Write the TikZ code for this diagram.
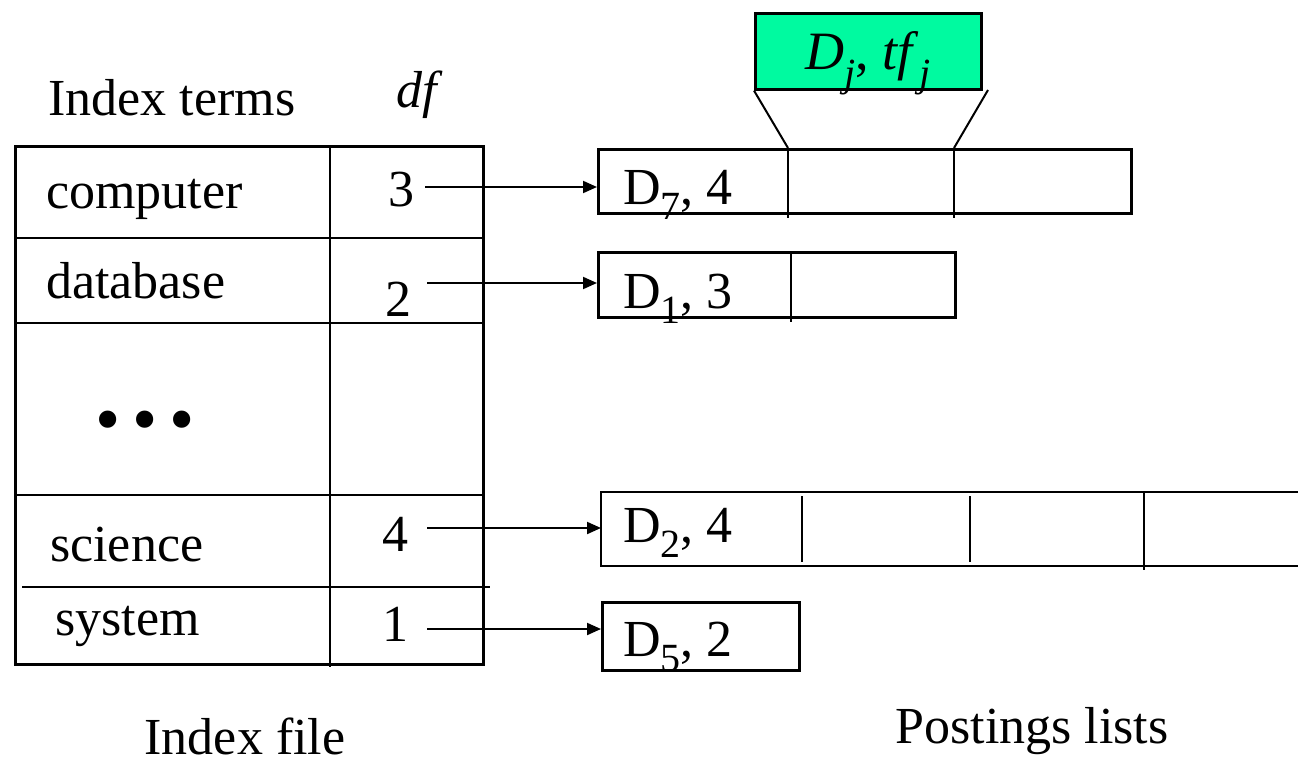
\documentclass[tikz,border=0pt]{standalone}
\usepackage{fontspec}
\setmainfont{Liberation Serif}
\usetikzlibrary{arrows.meta}
\newcommand{\mysub}[1]{\raisebox{-0.3em}{\fontsize{40}{40}\selectfont #1}}
\newcommand{\mysubj}[1]{\raisebox{-0.3em}{\fontsize{40}{40}\selectfont #1}}
\begin{document}
\begin{tikzpicture}[x=1pt,y=-1pt,
  ln/.style={line width=2.6pt},
  txt/.style={inner sep=0pt,font=\fontsize{52}{60}\selectfont},
  arr/.style={line width=2pt,-{Triangle[length=14pt,width=12pt]}},
  pbox/.style={draw,line width=2.6pt,anchor=north west,inner sep=0pt}]
\useasboundingbox (0,0) rectangle (1298,765);
% table
\node[pbox,minimum width=468pt,minimum height=518pt] (tab) at (14,145) {};
\draw[ln] (330,148) -- (330,667);
\draw[ln] (14,238) -- (483,238);
\draw[ln] (14,323) -- (482,323);
\draw[ln] (14,495) -- (482,495);
\draw[ln] (22,587) -- (490,587);
% headers
\node[txt] (hterms) at (172,98) {Index terms};
\node[txt] (hdf) at (420,95) {\textit{df}};
\node[txt] (hfile) at (245,736) {Index file};
\node[txt] (hpost) at (1032,731) {Postings lists};
% terms
\node[txt,anchor=west] (t1) at (46,199) {computer};
\node[txt,anchor=west] (t2) at (46,281) {database};
\node[txt,font=\fontsize{72}{80}\selectfont] (dots) at (145,427) {•\hspace{12pt}•\hspace{12pt}•};
\node[txt,anchor=west] (t3) at (50,545) {science};
\node[txt,anchor=west] (t4) at (55,626) {system};
% df
\node[txt] (n1) at (401,190) {3};
\node[txt] (n2) at (398,299) {2};
\node[txt] (n3) at (395,534) {4};
\node[txt] (n4) at (395,624) {1};
% postings
\node[pbox,minimum width=533pt,minimum height=64pt] (p1) at (597,148) {};
\draw[ln] (788,148) -- (788,218);
\draw[ln] (954,148) -- (954,218);
\node[txt,anchor=base west] (l1) at (623,204) {D\mysub{7}, 4};
\node[pbox,minimum width=357pt,minimum height=65pt] (p2) at (597,251) {};
\draw[ln] (791,251) -- (791,322);
\node[txt,anchor=base west] (l2) at (623,308) {D\mysub{1}, 3};
\coordinate (p3) at (601,529);
\draw[ln] (1298,492) -- (601,492) -- (601,566) -- (1298,566);
\draw[ln] (802,496) -- (802,562);
\draw[ln] (970,496) -- (970,562);
\draw[ln] (1144,492) -- (1144,570);
\node[txt,anchor=base west] (l3) at (623,542) {D\mysub{2}, 4};
\node[pbox,minimum width=197pt,minimum height=68pt] (p4) at (601,601) {};
\node[txt,anchor=base west] (l4) at (623,656) {D\mysub{5}, 2};
% arrows
\coordinate (a1) at (425,187);
\coordinate (a2) at (427,283);
\coordinate (a3) at (427,528);
\coordinate (a4) at (427,629);
\draw[arr] (a1) -- (p1.west |- a1);
\draw[arr] (a2) -- (p2.west |- a2);
\draw[arr] (a3) -- (p3 |- a3);
\draw[arr] (a4) -- (p4.west |- a4);
% callout
\definecolor{callg}{RGB}{0,250,160}
\node[pbox,fill=callg,minimum width=226pt,minimum height=76pt] (cb) at (754,12) {};
\node[txt,font=\fontsize{54}{60}\selectfont,anchor=base] (cl) at (868,70) {\textit{D}\mysubj{\textit{j}}, \textit{tf}\mysubj{\textit{j}}};
\coordinate (c1) at (788,148);
\coordinate (c2) at (954,148);
\draw[line width=2pt] (cb.south west) -- (c1);
\draw[line width=2pt] (988,90) -- (c2);
\end{tikzpicture}
\end{document}
